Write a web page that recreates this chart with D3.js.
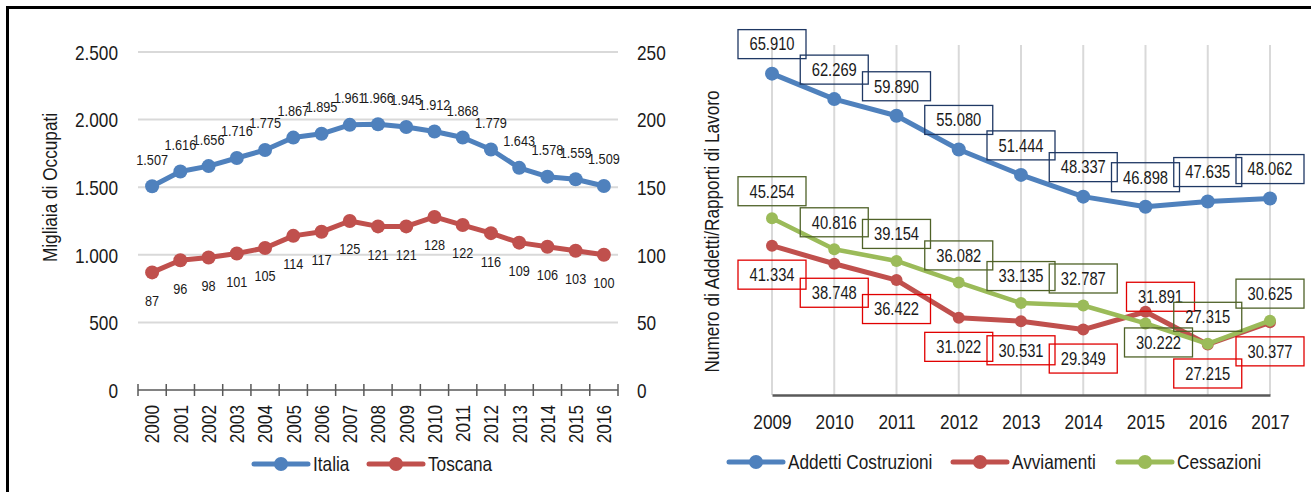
<!DOCTYPE html>
<html>
<head>
<meta charset="utf-8">
<script src="https://cdn.jsdelivr.net/npm/d3@7"></script>
<style>
  html, body { margin: 0; padding: 0; background: #fff; }
  svg text { font-family: "Liberation Sans", Arial, sans-serif; fill: #1a1a1a; }
</style>
</head>
<body>
<svg id="chart" width="1311" height="492"></svg>
<script>
// Occupati nelle costruzioni (migliaia): Italia sull'asse sinistro, Toscana sul destro
const anniOccupati = ["2000","2001","2002","2003","2004","2005","2006","2007","2008","2009","2010","2011","2012","2013","2014","2015","2016"];
const italia  = [1507,1616,1656,1716,1775,1867,1895,1961,1966,1945,1912,1868,1779,1643,1578,1559,1509];
const toscana = [87,96,98,101,105,114,117,125,121,121,128,122,116,109,106,103,100];
const ticksSinistra = [0,500,1000,1500,2000,2500];
const ticksDestra   = [0,50,100,150,200,250];

// Addetti e rapporti di lavoro in Toscana
const anniRapporti = ["2009","2010","2011","2012","2013","2014","2015","2016","2017"];
const addetti     = [65910,62269,59890,55080,51444,48337,46898,47635,48062];
const avviamenti  = [41334,38748,36422,31022,30531,29349,31891,27215,30377];
const cessazioni  = [45254,40816,39154,36082,33135,32787,30222,27315,30625];

const fmt = d3.formatLocale({decimal: ",", thousands: ".", grouping: [3], currency: ["€", ""]}).format(",d");

// testo in stile "narrow": carattere normale compresso in orizzontale
const SX = 0.82;
function testo(parent, x, y, str, size, opts = {}) {
  const rot = opts.rotate ? ` rotate(${opts.rotate})` : "";
  return parent.append("text")
    .attr("transform", `translate(${x},${y})${rot} scale(${SX},1)`)
    .attr("text-anchor", opts.anchor || "start")
    .attr("dy", opts.dy || null)
    .attr("font-size", size)
    .attr("fill", opts.fill || "#1a1a1a")
    .text(str);
}
// comprime le etichette generate da d3.axis mantenendone la posizione
function comprimiAsse(gAxis, size, dx, dy) {
  gAxis.selectAll(".tick text").each(function () {
    const t = d3.select(this);
    t.attr("x", null).attr("y", null).attr("dy", "0.35em")
      .attr("transform", `translate(${dx},${dy}) scale(${SX},1)`)
      .attr("font-size", size).attr("fill", "#1a1a1a");
  });
}

const svg = d3.select("#chart");

// cornice
svg.append("line").attr("x1", 6).attr("x2", 1311).attr("y1", 7.5).attr("y2", 7.5)
  .attr("stroke", "#000").attr("stroke-width", 3);
svg.append("line").attr("x1", 7.5).attr("x2", 7.5).attr("y1", 6).attr("y2", 492)
  .attr("stroke", "#000").attr("stroke-width", 3);

const BLU = "#4f81bd", ROSSO = "#c0504d", VERDE = "#9bbb59";
const GRID = "#d9d9d9", ASSE = "#595959";

/* ---------- grafico di sinistra ---------- */
{
  const x = d3.scaleBand().domain(anniOccupati).range([138, 618]);
  const yL = d3.scaleLinear().domain([0, 2500]).range([390, 52]);
  const yR = d3.scaleLinear().domain([0, 250]).range([390, 52]);
  const g = svg.append("g");

  // griglia orizzontale
  g.selectAll("line.grid").data(ticksSinistra.filter(d => d > 0)).join("line")
    .attr("x1", 138).attr("x2", 618)
    .attr("y1", d => yL(d)).attr("y2", d => yL(d))
    .attr("stroke", GRID).attr("stroke-width", 2);

  // asse Y sinistro
  const gL = g.append("g").attr("transform", "translate(138,0)")
    .call(d3.axisLeft(yL).tickValues(ticksSinistra).tickFormat(fmt).tickSize(0));
  gL.select(".domain").remove();
  comprimiAsse(gL, 21, -20, 0);

  // asse Y destro
  const gR = g.append("g").attr("transform", "translate(618,0)")
    .call(d3.axisRight(yR).tickValues(ticksDestra).tickFormat(fmt).tickSize(0));
  gR.select(".domain").remove();
  comprimiAsse(gR, 21, 19, 0);

  // asse X con tacche tra le categorie
  g.append("line").attr("x1", 138).attr("x2", 618).attr("y1", 390).attr("y2", 390)
    .attr("stroke", ASSE).attr("stroke-width", 1.5);
  const bordi = anniOccupati.map(d => x(d)).concat([x.range()[1]]);
  g.selectAll("line.tick").data(bordi).join("line")
    .attr("x1", d => d).attr("x2", d => d).attr("y1", 384).attr("y2", 396)
    .attr("stroke", ASSE).attr("stroke-width", 1.5);
  anniOccupati.forEach(a => {
    testo(g, x(a) + x.bandwidth() / 2, 405, a, 21, {rotate: -90, anchor: "end", dy: "0.35em"});
  });

  // titolo asse
  testo(g, 57, 187.5, "Migliaia di Occupati", 21, {rotate: -90, anchor: "middle"});

  const cx = d => x(d) + x.bandwidth() / 2;
  const serie = [
    {valori: italia, y: yL, col: BLU, dy: -27},
    {valori: toscana, y: yR, col: ROSSO, dy: 28}
  ];
  serie.forEach(s => {
    const pts = anniOccupati.map((a, i) => [cx(a), s.y(s.valori[i])]);
    g.append("path").attr("d", d3.line()(pts)).attr("fill", "none")
      .attr("stroke", s.col).attr("stroke-width", 5).attr("stroke-linejoin", "round");
    g.selectAll(null).data(pts).join("circle")
      .attr("cx", d => d[0]).attr("cy", d => d[1]).attr("r", 7).attr("fill", s.col);
    s.valori.forEach((v, i) => {
      testo(g, pts[i][0], pts[i][1] + s.dy, fmt(v), 15.5, {anchor: "middle", dy: "0.35em", fill: "#262626"});
    });
  });

  // legenda
  const leg = [{nome: "Italia", col: BLU, x0: 254}, {nome: "Toscana", col: ROSSO, x0: 369}];
  leg.forEach(l => {
    g.append("line").attr("x1", l.x0).attr("x2", l.x0 + 54).attr("y1", 464).attr("y2", 464)
      .attr("stroke", l.col).attr("stroke-width", 5).attr("stroke-linecap", "round");
    g.append("circle").attr("cx", l.x0 + 27).attr("cy", 464).attr("r", 7).attr("fill", l.col);
    testo(g, l.x0 + 59, 464, l.nome, 21, {dy: "0.35em"});
  });
}

/* ---------- grafico di destra ---------- */
{
  const x = d3.scalePoint().domain(anniRapporti).range([772, 1270]);
  const y = d3.scaleLinear().domain([20000, 70000]).range([395, 45]);
  const g = svg.append("g");

  // griglia verticale
  g.selectAll("line.grid").data(anniRapporti).join("line")
    .attr("x1", d => x(d)).attr("x2", d => x(d)).attr("y1", 45).attr("y2", 395)
    .attr("stroke", GRID).attr("stroke-width", 2);

  const gx = g.append("g").attr("transform", "translate(0,395)")
    .call(d3.axisBottom(x).tickSize(0));
  gx.select(".domain").attr("stroke", ASSE).attr("stroke-width", 2.5);
  comprimiAsse(gx, 21, 0, 27);
  gx.selectAll(".tick text").attr("text-anchor", "middle");

  testo(g, 719, 231.5, "Numero di Addetti/Rapporti di Lavoro", 21, {rotate: -90, anchor: "middle"});

  // spostamenti delle etichette rispetto al punto (anno 2015 spostato a mano)
  const serie = [
    {nome: "Addetti Costruzioni", valori: addetti, col: BLU, bordo: "#1f3864", r: 7, w: 5,
     off: i => [0, -29.5]},
    {nome: "Avviamenti", valori: avviamenti, col: ROSSO, bordo: "#e00000", r: 6, w: 5,
     off: i => i === 6 ? [15, -15] : [0, 29]},
    {nome: "Cessazioni", valori: cessazioni, col: VERDE, bordo: "#4f6228", r: 6, w: 4.5,
     off: i => i === 6 ? [13, 19] : [0, -27]}
  ];

  serie.forEach(s => {
    const pts = anniRapporti.map((a, i) => [x(a), y(s.valori[i])]);
    g.append("path").attr("d", d3.line()(pts)).attr("fill", "none")
      .attr("stroke", s.col).attr("stroke-width", s.w).attr("stroke-linejoin", "round");
    g.selectAll(null).data(pts).join("circle")
      .attr("cx", d => d[0]).attr("cy", d => d[1]).attr("r", s.r).attr("fill", s.col);
  });

  serie.forEach(s => {
    s.valori.forEach((v, i) => {
      const o = s.off(i);
      const lab = g.append("g")
        .attr("transform", `translate(${x(anniRapporti[i]) + o[0]},${y(v) + o[1]})`);
      lab.append("rect").attr("x", -34).attr("y", -14.5).attr("width", 68).attr("height", 29)
        .attr("fill", "none").attr("stroke", s.bordo).attr("stroke-width", 1.3);
      testo(lab, 0, 0, fmt(v), 18, {anchor: "middle", dy: "0.35em"});
    });
  });

  // legenda
  const leg = [{i: 0, x0: 729}, {i: 1, x0: 953}, {i: 2, x0: 1118}];
  leg.forEach(l => {
    const s = serie[l.i];
    g.append("line").attr("x1", l.x0).attr("x2", l.x0 + 54).attr("y1", 462).attr("y2", 462)
      .attr("stroke", s.col).attr("stroke-width", 5).attr("stroke-linecap", "round");
    g.append("circle").attr("cx", l.x0 + 27).attr("cy", 462).attr("r", 7).attr("fill", s.col);
    testo(g, l.x0 + 59, 462, s.nome, 21, {dy: "0.35em"});
  });
}
</script>
</body>
</html>
